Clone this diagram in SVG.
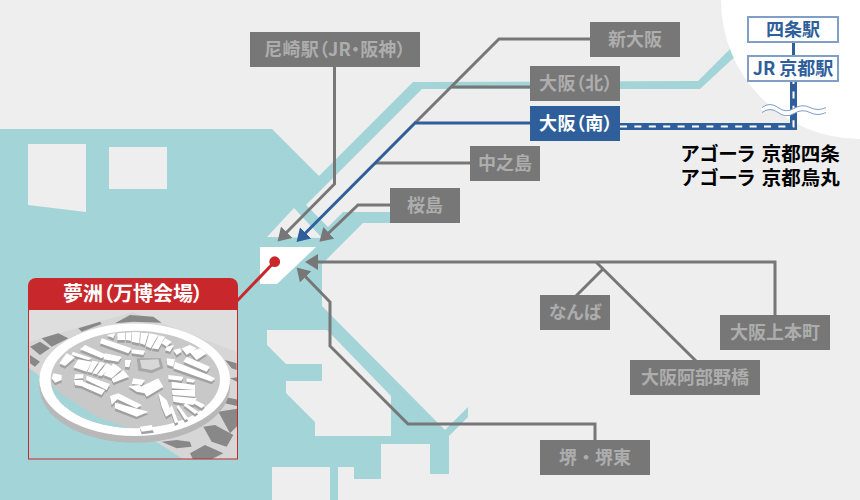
<svg xmlns="http://www.w3.org/2000/svg" width="860" height="500" viewBox="0 0 860 500">
<defs>
<style>
text{font-family:"Noto Sans CJK JP","Noto Sans",sans-serif;font-weight:700;font-size:18px;text-anchor:middle;font-feature-settings:"palt"}
.st rect{fill:#777}
.st text{fill:#adadad}
.ln{fill:none;stroke:#777;stroke-width:3}
.kb rect{fill:#fff;stroke:#7f9fc6;stroke-width:2}
.kb text{fill:#2e5f9b}
.ag{fill:#000;text-anchor:start;font-size:19.500px;word-spacing:2px}
</style>
<marker id="ag" markerUnits="userSpaceOnUse" markerWidth="14" markerHeight="16" viewBox="0 0 14 16" refX="6" refY="8" orient="auto"><path d="M0,0L13,8L0,16z" fill="#777"/></marker>
<marker id="ab" markerUnits="userSpaceOnUse" markerWidth="14" markerHeight="16" viewBox="0 0 14 16" refX="6" refY="8" orient="auto"><path d="M0,0L13,8L0,16z" fill="#2e5f9b"/></marker>
<clipPath id="box"><rect x="29" y="310" width="208" height="149"/></clipPath>
<clipPath id="inner"><ellipse cx="135.3" cy="379.5" rx="84.7" ry="48.7"/></clipPath>
<path id="b" d="M230,75L255,70L250,85ZM262,70L285,68L285,90L262,90ZM288,68L303,67L303,92L288,90ZM305,66L330,67L328,100L305,95ZM333,68L355,70L345,105L330,100ZM358,70L385,75L362,115L347,108ZM387,76L405,80L385,118L365,115ZM405,85L425,95L410,110L395,100ZM410,110L432,105L420,125L405,120ZM430,120L450,115L455,125L440,135ZM455,115L480,105L500,115L470,135ZM478,125L510,115L530,130L500,150ZM215,85L305,115L295,130L210,100ZM305,118L345,122L340,135L305,130ZM128,125L185,145L175,150L125,135ZM165,105L230,135L215,145L150,118ZM225,130L275,140L265,155L220,148ZM110,130L135,142L105,168L88,160ZM145,148L185,155L170,185L130,172ZM187,152L205,155L185,188L172,185ZM210,155L225,160L200,193L187,190ZM230,160L245,168L215,198L202,195ZM250,160L275,178L245,205L220,195ZM285,150L303,150L298,172L285,170ZM245,207L280,180L297,200L250,218ZM70,190L95,195L95,210L75,218L65,205ZM135,193L160,193L160,205L133,207ZM132,210L158,210L165,230L135,225ZM170,197L240,222L230,240L168,210ZM160,215L225,240L215,255L158,230ZM240,258L265,250L335,285L320,295L262,268L245,285ZM255,278L355,305L320,320L255,295ZM310,205L345,210L335,225L305,222ZM295,228L330,225L345,250L320,245ZM332,230L385,205L400,230L350,260ZM385,250L410,270L425,310L408,320L395,290ZM425,285L445,335L435,340L420,295ZM425,215L495,225L495,240L425,235ZM425,240L495,240L495,260L428,255ZM428,258L500,265L490,285L430,275ZM415,195L460,200L455,212L415,208ZM470,205L495,210L490,218L470,215ZM445,285L475,325L465,330L440,290ZM468,280L505,305L495,312L460,285ZM495,270L525,285L515,295L490,280ZM435,155L535,195L555,205L545,215L430,175ZM410,145L435,148L430,170L412,165ZM470,140L540,170L530,185L460,155ZM330,350L365,345L372,360L335,365Z"/>
</defs>
<rect width="860" height="500" fill="#eee"/>
<g id="map">
<path d="M0,129L272,129L319,176L413,82L698,81L735,44L740,52L700,89L422,89L306,205L328,227L343,212L398,212L398,223L363,223L322,264L322,306L437,422L445,430L468,407L468,417L449,436L449,474L430,474L430,444L381,444L381,479L354,479L354,467L338,467L338,500L330,500L330,467L272,467L272,500L0,500Z" fill="#a3d4d7"/>
<path d="M28,144H86V212L28,205ZM109,147H167V189H109ZM267,237L294,208L322,238ZM267,330H327L391,396V436H315V422L286,393V381H322V364H286L267,345Z" fill="#eee"/>
<path d="M260,247H316L277,284H260Z" fill="#fff"/>
<circle cx="860" cy="0" r="139" fill="#fff"/>
</g>
<g id="connectors">
<path class="ln" marker-end="url(#ag)" d="M334.500,67V184L282.500,236.500"/>
<path class="ln" d="M590,39H499L415,123"/>
<path class="ln" d="M530,87H452"/>
<path class="ln" d="M470,163H375"/>
<path class="ln" marker-end="url(#ag)" d="M390,205H358L324.500,237"/>
<path class="ln" marker-end="url(#ag)" d="M775,315V262H312"/>
<path class="ln" d="M596,262L696,361M603,269L576,296"/>
<path class="ln" marker-end="url(#ag)" d="M595,440V424H408L330,346V302L301.500,272.500"/>
<path fill="none" stroke="#2e5f9b" stroke-width="3" marker-end="url(#ab)" d="M530,123H415L301.500,237"/>
<path fill="none" stroke="#2e5f9b" stroke-width="3" d="M793.500,42V56"/>
<path fill="none" stroke="#2e5f9b" stroke-width="7" d="M620,126.500H793.500V81"/>
<path fill="none" stroke="#fff" stroke-width="2" stroke-dasharray="7 7.400" d="M620,126.500H793.500V81"/>
<path fill="none" stroke="#fff" stroke-width="5" d="M762,110q8,-6 16,0t16,1t16,-1t16,0"/>
<path fill="none" stroke="#7f9fc6" stroke-width="1" d="M762,107.500q8,-6 16,0t16,1t16,-1t16,0M762,112.500q8,-6 16,0t16,1t16,-1t16,0"/>
<path fill="none" stroke="#c8282b" stroke-width="3" d="M236,302L274.700,261.700"/>
<circle cx="274.700" cy="261.700" r="5.400" fill="#c8282b"/>
</g>
<g id="amagasaki" class="st"><rect x="250" y="32" width="170" height="35"/><text x="335" y="56" style="letter-spacing:.2px">尼崎駅（JR・阪神）</text></g>
<g id="shinosaka" class="st"><rect x="590" y="22" width="90" height="35"/><text x="635" y="46">新大阪</text></g>
<g id="osaka-kita" class="st"><rect x="530" y="66" width="90" height="35"/><text x="576" y="90" style="letter-spacing:.4px">大阪（北）</text></g>
<g id="osaka-minami"><rect x="530" y="106" width="90" height="35" fill="#2e5f9b"/><text x="576" y="130" fill="#fff" style="letter-spacing:.4px">大阪（南）</text></g>
<g id="nakanoshima" class="st"><rect x="470" y="146" width="70" height="35"/><text x="505" y="170">中之島</text></g>
<g id="sakurajima" class="st"><rect x="390" y="188" width="70" height="35"/><text x="425" y="212">桜島</text></g>
<g id="namba" class="st"><rect x="540" y="295" width="70" height="35"/><text x="575" y="319">なんば</text></g>
<g id="uehommachi" class="st"><rect x="720" y="315" width="110" height="35"/><text x="775" y="339">大阪上本町</text></g>
<g id="abeno" class="st"><rect x="630" y="360" width="130" height="35"/><text x="695" y="384">大阪阿部野橋</text></g>
<g id="sakai" class="st"><rect x="540" y="440" width="110" height="35"/><text x="595" y="464" style="font-feature-settings:normal">堺・堺東</text></g>
<g id="shijo" class="kb"><rect x="748" y="17" width="90" height="25"/><text x="793" y="36">四条駅</text></g>
<g id="kyoto" class="kb"><rect x="748" y="56" width="90" height="25"/><text x="793" y="75">JR 京都駅</text></g>
<g id="agora"><text class="ag" x="681" y="160.500">アゴーラ 京都四条</text><text class="ag" x="681" y="184.500">アゴーラ 京都烏丸</text></g>
<g id="yumeshima">
<g clip-path="url(#box)">
<rect x="29" y="310" width="208" height="149" fill="#dedede"/>
<path d="M133,312L237,352V459H29V342Z" fill="#d6d6d6"/>
<g transform="translate(30,310) scale(.3333)" fill="#888">
<path d="M255,40L300,15L370,20L395,38L310,35ZM145,55L210,35L215,42L155,65ZM35,85L85,70L115,85L65,110ZM0,110L30,95L60,115L30,135ZM0,135L30,155L15,170L0,160ZM585,150L620,160L620,180L605,175ZM600,205L630,200L630,220ZM580,260L630,270L630,290L585,280ZM565,305L630,295L630,340L600,370ZM520,350L555,345L610,375L590,410L545,395ZM395,395L440,390L480,395L485,410L440,415ZM480,430L525,405L580,430L540,450L490,450Z"/>
</g>
<path d="M29,368L51,385L73,408L103,420L133,429L158,443L183,459H29Z" fill="#a3d4d7"/>
<ellipse cx="134.700" cy="386.500" rx="95.300" ry="56.300" fill="#b8b8b8"/>
<ellipse cx="134.700" cy="379.700" rx="95.300" ry="56.300" fill="#fff"/>
<ellipse cx="135.300" cy="379.500" rx="84.700" ry="48.700" fill="#c8c8c8"/>
<path clip-path="url(#inner)" d="M40,370L51,385L63,395L97,417L135,430V440H40Z" fill="#a3d4d7"/>
<g transform="translate(30,310) scale(.3333)">
<path d="M320,145L392,145L400,175L365,190L325,182Z" fill="#a8a8a8"/>
<use href="#b" y="8" fill="#a0a0a0"/>
<use href="#b" fill="#fff"/>
<path d="M330,150L385,148L390,170L365,180L335,175Z" fill="#d8d8d8"/>
</g>
</g>
<rect x="28.500" y="300" width="209" height="159" fill="none" stroke="#c8282b"/>
<path d="M28,310V286a8,8 0 0 1 8,-8H230a8,8 0 0 1 8,8V310Z" fill="#c8282b"/>
<text x="133" y="301" fill="#fff" style="font-size:20px">夢洲（万博会場）</text>
</g>
</svg>
